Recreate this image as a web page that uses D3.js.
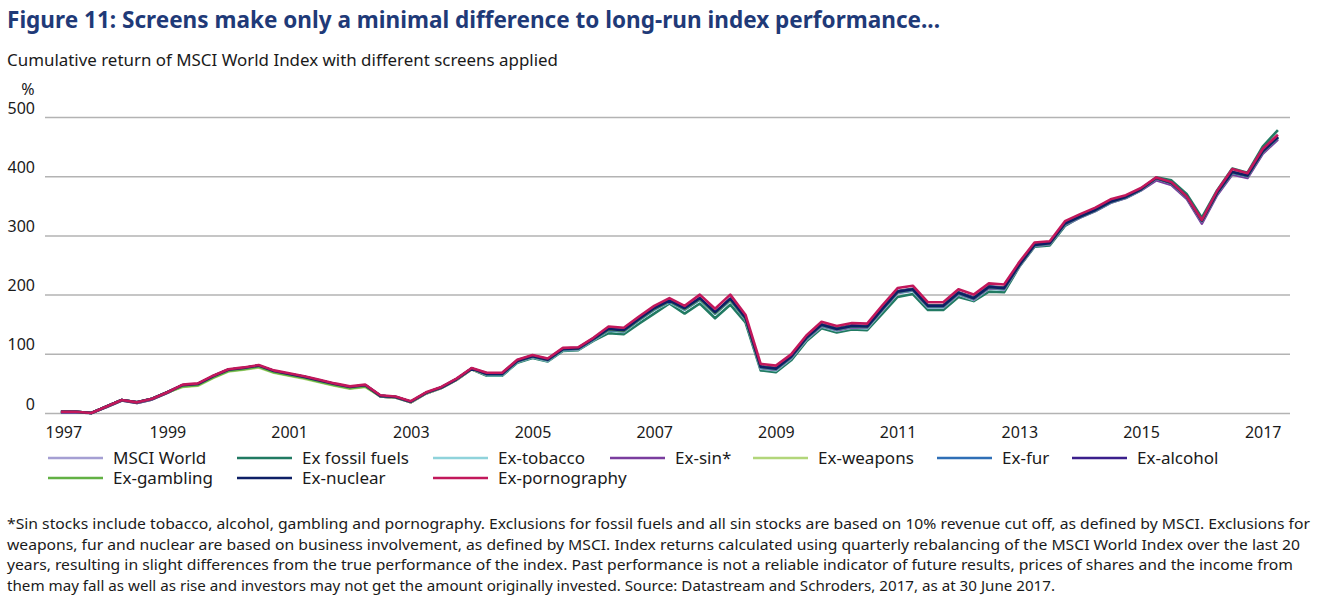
<!DOCTYPE html>
<html>
<head>
<meta charset="utf-8">
<script src="https://cdn.jsdelivr.net/npm/d3@7/dist/d3.min.js"></script>
<style>
  html, body { margin: 0; padding: 0; background: #fff; }
  svg { display: block; font-family: "Noto Sans", "Open Sans", sans-serif; }
</style>
</head>
<body>
<svg id="chart" width="1320" height="600"></svg>
<script>
// ---------- DATA (quarterly, cumulative return %, Q1 1997 .. Q1 2017) ----------
const startYear = 1997.25;   // first quarterly observation
const stepYears = 0.25;

const msciWorld = [2,2,0,11,22,18,24,35,47,49,62,73,76,80,71,66,61,55,49,44,47,29,27,19,34,43,57,75,
  66,66,88,96,90,108,109,125,141,139,158,176,189,176,193,169,192,160,78,75,95,127,149,142,147,146,
  176,205,209,181,181,203,194,213,211,250,284,287,320,332,343,357,365,378,397,389,366,325,372,407,401,442,466];

const exFossilFuels = [1,1,0,10,21,17,23,34,46,48,61,72,75,79,70,65,60,54,48,43,46,28,26,18,33,42,56,74,
  63,63,85,93,87,105,106,122,135,133,151,168,185,168,185,160,183,153,72,69,89,121,143,136,141,140,
  168,196,201,174,174,196,189,205,204,247,281,283,316,331,342,356,364,377,398,393,370,330,376,413,406,450,478];

const exTobacco = [2,2,0,11,22,18,24,35,47,49,62,73,76,80,71,66,61,55,49,44,47,29,27,19,34,43,57,75,
  64,64,86,94,88,106,107,123,139,137,156,174,187,174,191,167,190,158,75,72,92,124,146,139,144,143,
  173,202,206,178,178,200,191,210,208,248,282,285,318,330,341,355,363,376,394,386,363,322,369,404,398,439,463];

const exSin = [1,1,0,10,21,17,23,34,46,48,61,72,75,79,70,65,60,54,48,43,46,28,26,18,33,42,56,74,
  65,65,87,95,89,107,108,124,140,138,157,175,188,175,192,168,191,159,76,73,93,125,147,140,145,144,
  174,203,207,179,179,201,192,211,209,248,282,285,318,330,341,355,363,376,393,385,362,320,368,403,397,438,462];

const exWeapons = [2,2,0,11,22,18,24,35,44,46,59,70,73,77,68,63,58,52,46,41,44,28,26,18,33,42,56,74,
  65,65,87,95,89,107,108,124,140,138,157,175,188,175,192,168,191,159,77,74,94,126,148,141,146,145,
  175,204,208,180,180,202,193,212,210,249,283,286,319,331,342,356,364,377,396,388,365,324,371,406,400,441,465];

const exFur = [2,2,0,11,22,18,24,35,47,49,62,73,76,80,71,66,61,55,49,44,47,29,27,19,34,43,57,75,
  65,65,87,95,89,107,108,124,140,138,157,175,188,175,192,168,191,159,77,74,94,126,148,141,146,145,
  175,204,208,180,180,202,193,212,210,249,283,286,319,331,342,356,364,377,396,388,365,324,371,406,400,441,465];

const exAlcohol = [2,2,0,11,22,18,24,35,47,49,62,73,76,80,71,66,61,55,49,44,47,29,27,19,34,43,57,75,
  67,67,89,97,91,109,110,126,142,140,159,177,190,177,194,170,193,161,79,76,96,128,150,143,148,147,
  177,206,210,182,182,204,195,214,212,251,285,288,321,333,344,358,366,379,397,389,366,325,372,407,401,442,466];

const exGambling = [2,2,0,11,22,18,24,35,45,47,60,71,74,78,69,64,59,53,47,42,45,29,27,19,34,43,57,75,
  66,66,88,96,90,108,109,125,141,139,158,176,189,176,193,169,192,160,78,75,95,127,149,142,147,146,
  176,205,209,181,181,203,194,213,211,250,284,287,320,332,343,357,365,378,397,389,366,325,372,407,401,442,466];

const exNuclear = [2,2,0,11,22,18,24,35,47,49,62,73,76,80,71,66,61,55,49,44,47,29,27,19,34,43,57,75,
  66,66,88,96,90,108,109,125,142,140,159,177,190,177,194,170,193,161,78,75,95,127,149,142,147,146,
  176,205,209,181,181,203,194,213,211,250,284,287,320,332,343,357,365,378,397,389,366,325,372,407,401,442,466];

const exPornography = [2,2,0,11,22,18,24,35,48,50,63,74,77,81,72,67,62,56,50,45,48,30,28,20,35,44,58,76,
  68,68,90,98,92,110,111,127,146,144,163,181,194,181,200,176,200,166,83,80,99,131,154,147,152,151,
  182,211,215,187,187,209,200,219,217,255,288,290,324,336,347,361,368,380,398,390,366,326,375,412,405,446,470];

const seriesNames = ["MSCI World","Ex fossil fuels","Ex-tobacco","Ex-sin*","Ex-weapons",
                     "Ex-fur","Ex-alcohol","Ex-gambling","Ex-nuclear","Ex-pornography"];
const seriesValues = [msciWorld, exFossilFuels, exTobacco, exSin, exWeapons,
                      exFur, exAlcohol, exGambling, exNuclear, exPornography];
const seriesColors = ["#a59fd3","#217a62","#8fd3db","#7a3d9e","#b2d67a",
                      "#2f6fb6","#3b1f8c","#62b144","#0d1f66","#c2185b"];

const yTicks = [0,100,200,300,400,500];
const xTickYears = [1997,1999,2001,2003,2005,2007,2009,2011,2013,2015,2017];

const titleText = "Figure 11: Screens make only a minimal difference to long-run index performance...";
const subtitleText = "Cumulative return of MSCI World Index with different screens applied";
const footnoteLines = [
  "*Sin stocks include tobacco, alcohol, gambling and pornography. Exclusions for fossil fuels and all sin stocks are based on 10% revenue cut off, as defined by MSCI. Exclusions for",
  "weapons, fur and nuclear are based on business involvement, as defined by MSCI. Index returns calculated using quarterly rebalancing of the MSCI World Index over the last 20",
  "years, resulting in slight differences from the true performance of the index. Past performance is not a reliable indicator of future results, prices of shares and the income from",
  "them may fall as well as rise and investors may not get the amount originally invested. Source: Datastream and Schroders, 2017, as at 30 June 2017."
];

// ---------- LAYOUT ----------
const svg = d3.select("#chart");
const plot = { left: 45, right: 1290, top: 117, bottom: 413 };

const x = d3.scaleLinear().domain([1997, 2017]).range([45.7, 1262.7]);
const y = d3.scaleLinear().domain([0, 500]).range([plot.bottom, plot.top]);

// Title & subtitle
svg.append("text").attr("x", 7).attr("y", 28)
  .attr("font-size", 24).attr("font-weight", 700).attr("fill", "#1f3a78")
  .attr("textLength", 933).attr("lengthAdjust", "spacingAndGlyphs")
  .text(titleText);
svg.append("text").attr("x", 7).attr("y", 66)
  .attr("font-size", 16).attr("fill", "#1a1a1a")
  .attr("textLength", 551).attr("lengthAdjust", "spacingAndGlyphs")
  .text(subtitleText);

// y axis unit
svg.append("text").attr("x", 28).attr("y", 95).attr("text-anchor", "middle")
  .attr("font-size", 16).attr("fill", "#1a1a1a").text("%");

// Gridlines + y labels
const yAxis = d3.axisLeft(y).tickValues(yTicks).tickSize(-(plot.right - plot.left)).tickPadding(0);
const gy = svg.append("g").attr("transform", `translate(${plot.left},0)`).call(yAxis);
gy.select(".domain").remove();
gy.selectAll(".tick line").attr("stroke", "#b3b3b3").attr("stroke-width", 1.5);
gy.selectAll(".tick text")
  .attr("x", -10).attr("dy", "-0.25em")
  .attr("font-size", 16).attr("fill", "#1a1a1a")
  .attr("font-family", "Noto Sans, Open Sans, sans-serif");

// x labels
const xAxis = d3.axisBottom(x).tickValues(xTickYears).tickFormat(d3.format("d")).tickSize(0).tickPadding(0);
const gx = svg.append("g").attr("transform", `translate(0,${plot.bottom})`).call(xAxis);
gx.select(".domain").remove();
gx.selectAll(".tick text")
  .attr("y", 25).attr("dy", 0)
  .attr("font-size", 16).attr("fill", "#1a1a1a")
  .attr("font-family", "Noto Sans, Open Sans, sans-serif")
  .attr("text-anchor", d => d === 1997 ? "start" : "middle")
  .attr("x", d => d === 1997 ? plot.left - x(1997) : 0);

// Lines
const line = d3.line()
  .x((d, i) => x(startYear + i * stepYears))
  .y(d => y(d));
const gLines = svg.append("g");
seriesValues.forEach((vals, k) => {
  gLines.append("path").datum(vals)
    .attr("fill", "none")
    .attr("stroke", seriesColors[k])
    .attr("stroke-width", 2.6)
    .attr("stroke-linejoin", "round")
    .attr("d", line);
});

// Legend
const legendCols = [48, 237, 433, 610, 753, 937, 1072];
const legendRows = [458, 478];
seriesNames.forEach((name, k) => {
  const col = k < 7 ? k : k - 7;
  const row = k < 7 ? 0 : 1;
  const lx = legendCols[col], ly = legendRows[row];
  const g = svg.append("g");
  g.append("line").attr("x1", lx).attr("x2", lx + 55).attr("y1", ly).attr("y2", ly)
    .attr("stroke", seriesColors[k]).attr("stroke-width", 2.6);
  g.append("text").attr("x", lx + 65).attr("y", ly + 6)
    .attr("font-size", 17).attr("fill", "#1a1a1a").text(name);
});

// Footnote
const footWidths = [1303, 1293, 1286, 1048];
footnoteLines.forEach((t, i) => {
  svg.append("text").attr("x", 7).attr("y", 529 + i * 20.5)
    .attr("font-size", 15).attr("fill", "#1a1a1a")
    .attr("textLength", footWidths[i]).attr("lengthAdjust", "spacingAndGlyphs")
    .text(t);
});
</script>
</body>
</html>
